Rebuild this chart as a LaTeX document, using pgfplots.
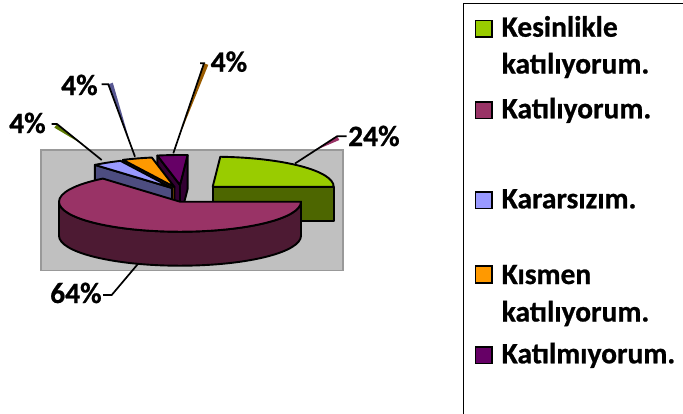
\documentclass[border=0pt]{standalone}
\usepackage{fontspec}
\setmainfont{Carlito}[BoldFeatures={FakeBold=0.7}]
\usepackage{pgfplots}
\pgfplotsset{compat=1.18}
\definecolor{gTop}{HTML}{99CC00}\definecolor{gSide}{HTML}{4D6600}
\definecolor{mTop}{HTML}{993366}\definecolor{mSide}{HTML}{4D1A33}
\definecolor{bTop}{HTML}{9999FF}\definecolor{bSide}{HTML}{4D4D80}
\definecolor{oTop}{HTML}{FF9900}\definecolor{oSide}{HTML}{804D00}
\definecolor{pTop}{HTML}{660066}\definecolor{pSide}{HTML}{330033}
\definecolor{plotgray}{HTML}{C0C0C0}\definecolor{framegray}{HTML}{999999}
% data (percent)
\def\pKes{24}\def\pKat{64}\def\pKar{4}\def\pKis{4}\def\pKtm{4}
\pgfmathsetmacro\tB{3.6*\pKat}
\pgfmathsetmacro\tC{\tB+3.6*\pKar}
\pgfmathsetmacro\tD{\tC+3.6*\pKis}
\pgfmathsetmacro\tE{\tD+3.6*\pKtm}
\pgfmathsetmacro\tG{\tE-360}
\def\RX{121}\def\RY{30}\def\DP{34}
\def\LW{1.9pt}
\newcommand\slicetop[5]{%
  \filldraw[fill=#5,draw=black,line width=\LW,line join=round]
   (axis cs:#1,#2) -- (axis cs:{#1+\RX*cos(#3)},{#2+\RY*sin(#3)})
   arc[start angle={-(#3)}, end angle={-(#4)}, x radius=\RX pt, y radius=\RY pt] -- cycle;}
\newcommand\cutface[4]{%
  \filldraw[fill=#4,draw=black,line width=\LW,line join=round]
   (axis cs:#1,#2) -- (axis cs:{#1+\RX*cos(#3)},{#2+\RY*sin(#3)})
   -- (axis cs:{#1+\RX*cos(#3)},{#2+\RY*sin(#3)+\DP}) -- (axis cs:#1,{#2+\DP}) -- cycle;}
\newcommand\lbl[3]{\node[anchor=base west,inner sep=0pt,font=\bfseries\fontsize{29.5}{35}\selectfont] at (axis cs:#1,#2) {#3};}
\begin{document}
\begin{tikzpicture}
\begin{axis}[x=1pt,y=1pt,y dir=reverse,xmin=0,xmax=683,ymin=0,ymax=413,
  hide axis,clip=false,scale only axis]
\coordinate (ll) at (axis cs:0,413);
\coordinate (ur) at (axis cs:683,0);
% plot area
\filldraw[fill=plotgray,draw=framegray,line width=1.8pt] (axis cs:41,150) rectangle (axis cs:343,270.5);
% green slice (exploded)
\cutface{212.7}{186.7}{0}{gSide}
\slicetop{212.7}{186.7}{\tG}{0}{gTop}
% purple
\cutface{180}{185}{\tD}{pSide}
\cutface{180}{185}{\tE}{pSide}
\slicetop{180}{185}{\tD}{\tE}{pTop}
% orange
\cutface{174.5}{187}{\tC}{oSide}
\slicetop{174.5}{187}{\tC}{\tD}{oTop}
% blue
\cutface{172}{188}{\tB}{bSide}
\slicetop{172}{188}{\tB}{\tC}{bTop}
% maroon
\filldraw[fill=mSide,draw=black,line width=\LW,line join=round]
  (axis cs:{180+\RX},201.7) arc[start angle=0,end angle=-180,x radius=\RX pt,y radius=\RY pt]
  -- (axis cs:{180-\RX},{201.7+\DP}) arc[start angle=-180,end angle=0,x radius=\RX pt,y radius=\RY pt] -- cycle;
\slicetop{180}{201.7}{0}{\tB}{mTop}
% leader lines (coloured ribbon + black line)
\fill[mTop] (axis cs:337,136.3) -- (axis cs:339.4,140) -- (axis cs:316,150) -- cycle;
\draw[line width=1.7pt] (axis cs:346.5,136.3) -- (axis cs:337,136.3) -- (axis cs:295,163.5);
\draw[line width=1.7pt] (axis cs:103,295) -- (axis cs:111.7,295) -- (axis cs:138.3,263.5);
\fill[gSide!80!gTop] (axis cs:57,124) -- (axis cs:54.3,127.6) -- (axis cs:81,143.5) -- cycle;
\draw[line width=1.7pt] (axis cs:51.7,124) -- (axis cs:57,124) -- (axis cs:101.7,160);
\fill[bSide!85!bTop] (axis cs:108.3,84.3) -- (axis cs:112.8,82.7) -- (axis cs:131,145.8) -- cycle;
\draw[line width=1.7pt] (axis cs:101.7,84.3) -- (axis cs:108.3,84.3) -- (axis cs:135,156.7);
\fill[oSide!80!oTop] (axis cs:204,63.3) -- (axis cs:208.3,64.8) -- (axis cs:177.9,139.8) -- cycle;
\draw[line width=1.7pt] (axis cs:200,63.3) -- (axis cs:204,63.3) -- (axis cs:173.3,153.3);
% labels
\lbl{348}{146}{24\%}
\lbl{50}{303}{64\%}
\lbl{9}{133}{4\%}
\lbl{61}{95}{4\%}
\lbl{210.5}{71.7}{4\%}
% legend
\draw[line width=1.8pt] (axis cs:463.5,420) -- (axis cs:463.5,3.5) -- (axis cs:690,3.5);
\filldraw[fill=gTop,line width=1.6pt] (axis cs:475.5,20.5) rectangle (axis cs:492,36.7);
\filldraw[fill=mTop,line width=1.6pt] (axis cs:475.5,102) rectangle (axis cs:492,118.3);
\filldraw[fill=bTop,line width=1.6pt] (axis cs:475.5,192) rectangle (axis cs:492,208.3);
\filldraw[fill=oTop,line width=1.6pt] (axis cs:475.5,266) rectangle (axis cs:492,283);
\filldraw[fill=pTop,line width=1.6pt] (axis cs:475.5,347) rectangle (axis cs:492,363.3);
\lbl{501.5}{36.7}{Kesinlikle}
\lbl{501.5}{73.5}{katılıyorum.}
\lbl{501.5}{118.3}{Katılıyorum.}
\lbl{501.5}{208.3}{Kararsızım.}
\lbl{501.5}{284}{Kısmen}
\lbl{501.5}{321.5}{katılıyorum.}
\lbl{501.5}{363.3}{Katılmıyorum.}
\end{axis}
\pgfresetboundingbox
\path[use as bounding box] (ll) rectangle (ur);
\end{tikzpicture}
\end{document}
